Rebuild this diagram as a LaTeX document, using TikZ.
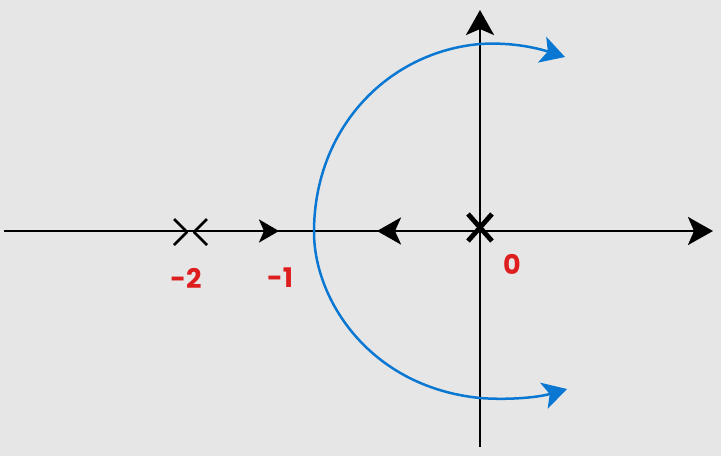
\documentclass[tikz,border=0pt]{standalone}
\usepackage{fontspec}
\setmainfont{Poppins}
\usetikzlibrary{arrows.meta}
\definecolor{bg}{RGB}{230,230,230}
\definecolor{locus}{RGB}{10,120,210}
\definecolor{lbl}{RGB}{222,30,30}
\tikzset{
  axis/.style={line width=2.8pt,black},
  bigtip/.style={-{Stealth[length=25pt,width=28pt,inset=6pt]}},
  midtip/.style={-{Stealth[length=20pt,width=23pt,inset=5pt]}},
  midtipb/.style={-{Stealth[length=24pt,width=27pt,inset=6pt]}},
  branch/.style={line width=2.5pt,locus},
  bluetip/.style={-{Stealth[length=24pt,width=27pt,inset=6pt]}},
  chev/.style={line width=2.6pt,black,line cap=butt,line join=round},
  polex/.style={line width=4.8pt,black},
  label/.style={font=\fontsize{27pt}{27pt}\selectfont\bfseries,text=lbl,inner sep=0pt}
}
\begin{document}
\begin{tikzpicture}[x=1pt,y=-1pt]
\useasboundingbox (0,0) rectangle (721,456);
\fill[bg] (0,0) rectangle (721,456);
% axes
\coordinate (L) at (4,231);
\coordinate (R) at (713,231);
\coordinate (T) at (480,10);
\coordinate (B) at (480,447);
\coordinate (O) at (480,231);
\draw[axis,bigtip] (L) -- (R);
\draw[axis,bigtip] (B) -- (T);
% arrows on real axis
\coordinate (a1s) at (250,231);
\coordinate (a1e) at (279,231);
\draw[axis,midtip] (a1s) -- (a1e);
\coordinate (a2s) at (420,231);
\coordinate (a2e) at (377,231);
\draw[axis,midtipb] (a2s) -- (a2e);
% breakaway chevrons at -2
\coordinate (c1) at (187,232);
\coordinate (c2) at (194,232);
\draw[chev] (174,219) -- (c1) -- (174,245);
\draw[chev] (207,219) -- (c2) -- (207,245);
% pole at origin
\draw[polex] (468,214) -- (492,241);
\draw[polex] (492,214) -- (468,241);
% root locus branches
\coordinate (lft) at (314,232);
\coordinate (top) at (480,44);
\coordinate (bot) at (480,398);
\coordinate (ttip) at (565,57);
\coordinate (btip) at (567,389);
\draw[branch,bluetip] (lft) .. controls (314,128) and (388,52) .. (top)
  .. controls (512,42) and (537,48) .. (ttip);
\draw[branch,bluetip] (lft) .. controls (314,300) and (370,387) .. (bot)
  .. controls (505,400) and (536,398) .. (btip);
% labels
\node[label] (m2) at (186,278) {-2};
\node[label] (m1) at (280,278) {-1};
\node[label] (z) at (512,264) {0};
\end{tikzpicture}
\end{document}
